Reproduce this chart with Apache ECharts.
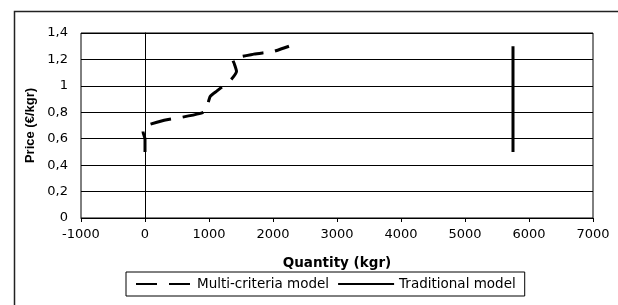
<!DOCTYPE html>
<html>
<head>
<meta charset="utf-8">
<script src="https://cdn.jsdelivr.net/npm/echarts@6/dist/echarts.min.js"></script>
<style>
html,body{margin:0;padding:0;background:#fff;}
#chart{width:618px;height:305px;}
</style>
</head>
<body>
<div id="chart"></div>
<script>
// Data
var multiCriteriaQty   = [0, 0, -30, -20, 300, 550, 850, 950, 980, 1020, 1120, 1250, 1350, 1430, 1400, 1370, 1700, 2000, 2250];
var multiCriteriaPrice = [0.5, 0.6, 0.65, 0.69, 0.74, 0.76, 0.79, 0.81, 0.86, 0.92, 0.96, 1.01, 1.05, 1.11, 1.16, 1.2, 1.24, 1.26, 1.3];
var traditionalQty     = [5750, 5750];
var traditionalPrice   = [0.5, 1.3];
var seriesNames = ['Multi-criteria model', 'Traditional model'];
var xTitle = 'Quantity (kgr)';
var yTitle = 'Price (€/kgr)';

function pairs(xs, ys) { return xs.map(function (x, i) { return [x, ys[i]]; }); }

var FONT = 'DejaVu Sans';
var chart = echarts.init(document.getElementById('chart'), null, {renderer: 'canvas'});
chart.setOption({
  animation: false,
  backgroundColor: '#fff',
  grid: {left: 81, top: 33, right: 25, bottom: 87, show: true, borderColor: '#000', borderWidth: 1,
         containLabel: false, outerBoundsMode: 'none'},
  xAxis: {
    type: 'value', min: -1000, max: 7000, interval: 1000,
    name: xTitle, nameLocation: 'middle', nameGap: 38,
    nameTextStyle: {fontFamily: FONT, fontSize: 13.5, fontWeight: 'bold', color: '#000'},
    axisLine: {show: true, lineStyle: {color: '#000', width: 1}},
    axisTick: {show: true, length: 4, lineStyle: {color: '#000'}},
    axisLabel: {color: '#000', fontFamily: FONT, fontSize: 13, margin: 10,
      formatter: function (v) { return String(v); }},
    splitLine: {show: false}
  },
  yAxis: {
    type: 'value', min: 0, max: 1.4, interval: 0.2,
    name: yTitle, nameLocation: 'middle', nameGap: 32,
    nameTextStyle: {fontFamily: 'Liberation Sans', fontSize: 13, fontWeight: 'bold', color: '#000'},
    axisLine: {show: true, onZero: true, lineStyle: {color: '#000', width: 1}},
    axisTick: {show: true, length: 4, lineStyle: {color: '#000'}},
    axisLabel: {color: '#000', fontFamily: FONT, fontSize: 13, margin: 13,
      formatter: function (v) { return String(+v.toFixed(1)).replace('.', ','); }},
    splitLine: {show: true, lineStyle: {color: '#000', width: 1}}
  },
  legend: {
    left: 126, top: 272,
    orient: 'horizontal',
    padding: [5, 9],
    itemGap: 8, itemWidth: 56, itemHeight: 14,
    borderColor: '#000', borderWidth: 1,
    itemStyle: {opacity: 0},
    textStyle: {fontFamily: FONT, fontSize: 13.5, color: '#000'},
    data: seriesNames
  },
  series: [
    {
      name: seriesNames[0], type: 'line', data: pairs(multiCriteriaQty, multiCriteriaPrice),
      symbol: 'none', smooth: 0.2, smoothMonotone: 'none',
      lineStyle: {color: '#000', width: 3, type: [21, 12]}, itemStyle: {color: '#000'}
    },
    {
      name: seriesNames[1], type: 'line', data: pairs(traditionalQty, traditionalPrice),
      symbol: 'none',
      lineStyle: {color: '#000', width: 3, type: 'solid'}, itemStyle: {color: '#000'}
    }
  ],
  graphic: [{
    type: 'rect', left: 12, top: 9, silent: true,
    shape: {x: 0, y: 0, width: 700, height: 400},
    style: {fill: 'none', stroke: '#222', lineWidth: 1.5}
  }]
});
</script>
</body>
</html>
